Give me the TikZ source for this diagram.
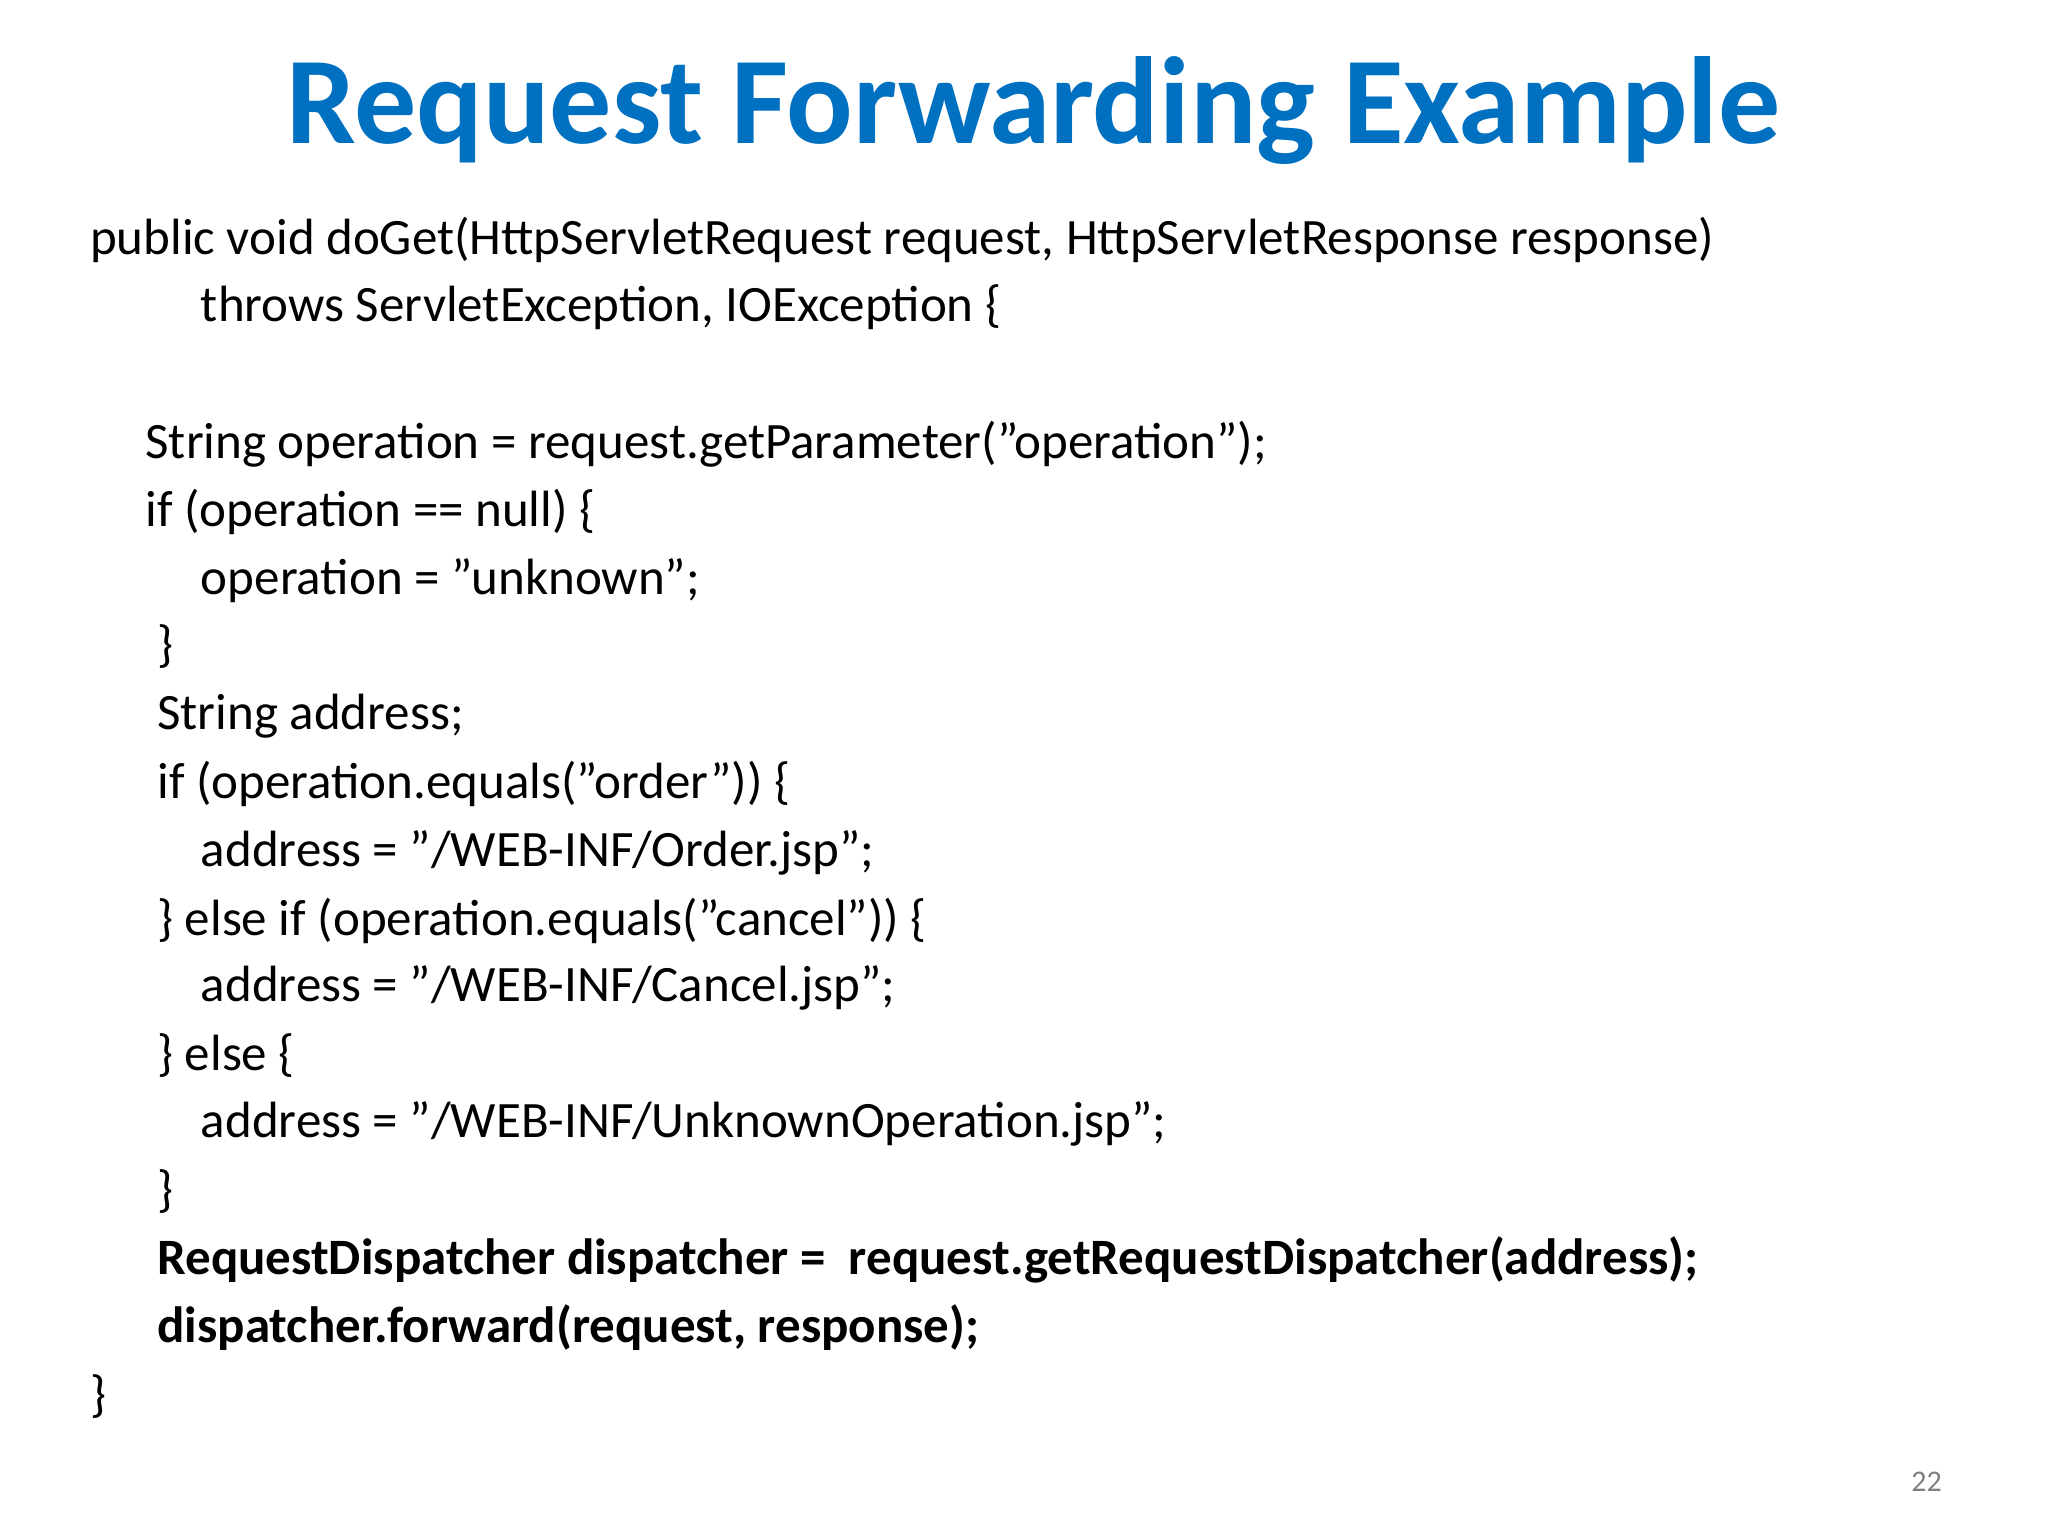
\documentclass[tikz,border=0pt]{standalone}
\usepackage{fontspec}
\setmainfont{Carlito}
\definecolor{titleblue}{RGB}{0,112,192}
\begin{document}
\begin{tikzpicture}[x=0.6598pt,y=-0.6598pt,
  code/.style={anchor=west,inner sep=0pt,font=\fontsize{25.5}{30}\selectfont},
  bcode/.style={code,font=\fontsize{25.5}{30}\selectfont\bfseries}]
\fill[white] (0,0) rectangle (1552,1164);
\node[inner sep=0pt,text=titleblue,font=\fontsize{62}{70}\selectfont\bfseries] (title) at (783,84) {Request Forwarding Example};
\node[code] (l1) at (68,182) {public void doGet(HttpServletRequest request, HttpServletResponse response)};
\node[code] (l2) at (152,233) {throws ServletException, IOException \{};
\node[code] (l3) at (110,337) {String operation = request.getParameter("operation");};
\node[code] (l4) at (110,388) {if (operation == null) \{};
\node[code] (l5) at (152,440) {operation = "unknown";};
\node[code] (l6) at (119,490) {\}};
\node[code] (l7) at (119,543) {String address;};
\node[code] (l8) at (119,594) {if (operation.equals("order")) \{};
\node[code] (l9) at (152,646) {address = "/WEB-INF/Order.jsp";};
\node[code] (l10) at (119,698) {\} else if (operation.equals("cancel")) \{};
\node[code] (l11) at (152,749) {address = "/WEB-INF/Cancel.jsp";};
\node[code] (l12) at (119,800) {\} else \{};
\node[code] (l13) at (152,852) {address = "/WEB-INF/UnknownOperation.jsp";};
\node[code] (l14) at (119,903) {\}};
\node[bcode] (l15) at (119,955) {RequestDispatcher dispatcher =\ \ request.getRequestDispatcher(address);};
\node[bcode] (l16) at (119,1006) {dispatcher.forward(request, response);};
\node[code] (l17) at (68,1058) {\}};
\node[inner sep=0pt,text=gray,font=\fontsize{15}{18}\selectfont] (pg) at (1460,1123) {22};
\end{tikzpicture}
\end{document}
